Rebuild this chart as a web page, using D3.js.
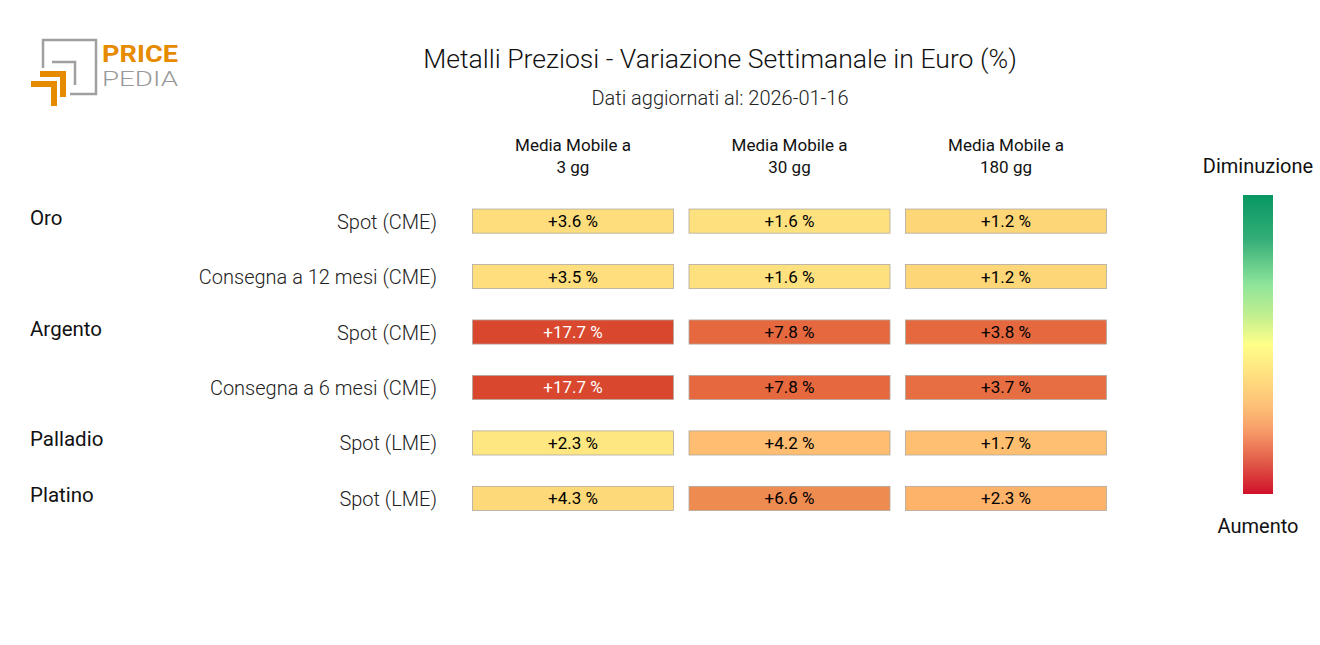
<!DOCTYPE html>
<html><head><meta charset="utf-8">
<script src="https://cdn.jsdelivr.net/npm/d3@7"></script>
<style>body{margin:0;background:#fff}svg{display:block}text{font-family:Roboto,sans-serif}</style>
</head><body><svg id="c" width="1320" height="645"></svg>
<script>
const columns = ["Media Mobile a|3 gg", "Media Mobile a|30 gg", "Media Mobile a|180 gg"];
const groups = ["Oro", "", "Argento", "", "Palladio", "Platino"];
const rows = ["Spot (CME)", "Consegna a 12 mesi (CME)", "Spot (CME)", "Consegna a 6 mesi (CME)", "Spot (LME)", "Spot (LME)"];
const ma3 = [3.6, 3.5, 17.7, 17.7, 2.3, 4.3];
const ma30 = [1.6, 1.6, 7.8, 7.8, 4.2, 6.6];
const ma180 = [1.2, 1.2, 3.8, 3.7, 1.7, 2.3];
const series = [ma3, ma30, ma180];
const title = "Metalli Preziosi - Variazione Settimanale in Euro (%)";
const subtitle = "Dati aggiornati al: 2026-01-16";

const svg = d3.select("#c");
// logo
const logo = svg.append("g");
const gray = "#a0a0a0", orange = "#E68A00";
logo.append("path").attr("d","M43,68 V40 H96 V94 H70").attr("fill","none").attr("stroke",gray).attr("stroke-width",2.5);
logo.append("path").attr("d","M52,62 H75 V85").attr("fill","none").attr("stroke",gray).attr("stroke-width",2.5);
logo.append("path").attr("d","M40,71 H66 V97 H60 V77 H40 Z").attr("fill",orange);
logo.append("path").attr("d","M31,81 H57 V106 H51 V87 H31 Z").attr("fill",orange);
logo.append("text").attr("x",102).attr("y",61.5).attr("font-size",24).attr("font-weight",700).attr("fill",orange)
  .attr("textLength",76).attr("lengthAdjust","spacingAndGlyphs").text("PRICE");
logo.append("text").attr("x",102).attr("y",86).attr("font-size",20.5).attr("font-weight",300).attr("fill","#999")
  .attr("textLength",76).attr("lengthAdjust","spacingAndGlyphs").text("PEDIA");

svg.append("text").attr("x",720).attr("y",68).attr("text-anchor","middle").attr("font-size",26.6).attr("font-weight",300).attr("fill","#111").text(title);
svg.append("text").attr("x",720).attr("y",105).attr("text-anchor","middle").attr("font-size",20).attr("font-weight",300).attr("fill","#222").text(subtitle);

const x = d3.scaleBand().domain(d3.range(columns.length)).range([472.5, 1106.5]).paddingInner(0.0716).paddingOuter(0);
const y = d3.scaleBand().domain(d3.range(rows.length)).range([193.5, 526]).paddingInner(0.565).paddingOuter(0.28);

// header
columns.forEach((c,i)=>{
  const t = svg.append("text").attr("text-anchor","middle").attr("font-size",17).attr("font-weight",400).attr("fill","#111");
  c.split("|").forEach((l,j)=>t.append("tspan").attr("x",x(i)+x.bandwidth()/2).attr("y",151+j*22).text(l));
});

const colorT = d3.scaleLinear()
  .domain([0.0,0.13,0.2,0.32,0.45,0.54,0.6,0.85,1.0,1.2])
  .range(["#FFF486","#FEEA80","#FEE27F","#FDD677","#FEC070","#FEBD70","#FEB46C","#EE8A50","#E5683F","#D9472F"]);

series.forEach((vals,ci)=>{
  const mx = d3.max(vals);
  const boost = mx > 10 ? 1.2 : 1.0;
  vals.forEach((v,ri)=>{
    const t = v/mx*boost;
    svg.append("rect").attr("x",x(ci)).attr("y",y(ri)).attr("width",x.bandwidth()).attr("height",y.bandwidth())
      .attr("fill",colorT(t)).attr("stroke","#b0a8a0").attr("stroke-width",0.8);
    svg.append("text").attr("x",x(ci)+x.bandwidth()/2).attr("y",y(ri)+y.bandwidth()/2+6).attr("text-anchor","middle")
      .attr("font-size",17).attr("fill", t>1.1?"#fff":"#000").text("+"+v.toFixed(1)+" %");
  });
});

rows.forEach((r,i)=>{
  svg.append("text").attr("x",437).attr("y",y(i)+y.bandwidth()/2+7.5).attr("text-anchor","end").attr("font-size",20).attr("font-weight",300).attr("fill","#222").text(r);
  if(groups[i]) svg.append("text").attr("x",30).attr("y",y(i)+y.bandwidth()/2+3.5).attr("font-size",20.5).attr("font-weight",400).attr("fill","#111").text(groups[i]);
});

// legend
const defs = svg.append("defs");
const lg = defs.append("linearGradient").attr("id","lg").attr("x1",0).attr("y1",0).attr("x2",0).attr("y2",1);
const stops = [[0,"#079762"],[0.15,"#35AE78"],[0.3,"#8EE59A"],[0.4,"#C0EE90"],[0.5,"#FFFF88"],[0.6,"#FFE080"],[0.7,"#FDC277"],[0.78,"#F9A06A"],[0.88,"#E4644C"],[1,"#D0102A"]];
stops.forEach(s=>lg.append("stop").attr("offset",s[0]).attr("stop-color",s[1]));
svg.append("rect").attr("x",1243).attr("y",195).attr("width",30).attr("height",299).attr("fill","url(#lg)");
svg.append("text").attr("x",1258).attr("y",173).attr("text-anchor","middle").attr("font-size",20).attr("fill","#111").text("Diminuzione");
svg.append("text").attr("x",1258).attr("y",533).attr("text-anchor","middle").attr("font-size",20).attr("fill","#111").text("Aumento");
</script></body></html>
